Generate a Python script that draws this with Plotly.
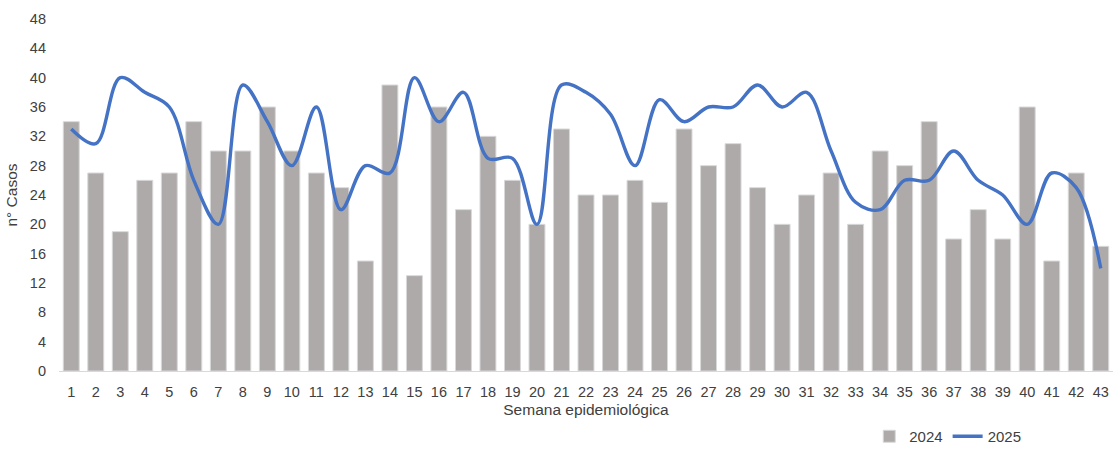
import plotly.graph_objects as go

# Semana epidemiológica 1..43
semanas = list(range(1, 44))

# Casos por semana, 2024 (barras)
casos_2024 = [34, 27, 19, 26, 27, 34, 30, 30, 36, 30, 27, 25, 15, 39, 13, 36, 22, 32, 26, 20,
              33, 24, 24, 26, 23, 33, 28, 31, 25, 20, 24, 27, 20, 30, 28, 34, 18, 22, 18, 36,
              15, 27, 17]

# Casos por semana, 2025 (línea suavizada)
casos_2025 = [33, 31, 40, 38, 36, 26, 20, 39, 34, 28, 36, 22, 28, 27, 40, 34, 38, 29, 29, 20,
              39, 38, 35, 28, 37, 34, 36, 36, 39, 36, 38, 30, 23, 22, 26, 26, 30, 26, 24, 20,
              27, 25, 14]

y_ticks = list(range(0, 49, 4))

font_family = "Liberation Sans, Arial, sans-serif"
text_color = "#404040"

fig = go.Figure()
fig.add_trace(go.Bar(
    x=semanas, y=casos_2024, name="2024",
    marker=dict(color="#ADAAA9", line=dict(color="#D9D9D9", width=1)),
))
fig.add_trace(go.Scatter(
    x=semanas, y=casos_2025, name="2025", mode="lines",
    line=dict(color="#4472C4", width=3.4, shape="spline", smoothing=1.0),
))

fig.update_layout(
    width=1113, height=453,
    margin=dict(l=59, r=0, t=19, b=82),
    paper_bgcolor="white", plot_bgcolor="white",
    bargap=0.35,
    font=dict(family=font_family, color=text_color, size=14.5),
    showlegend=True,
    legend=dict(
        orientation="h", xref="container", yref="container",
        x=0.781, y=-0.028, xanchor="left", yanchor="bottom",
        font=dict(size=15, color=text_color),
        itemwidth=30, traceorder="normal",
    ),
    xaxis=dict(
        tickmode="array", tickvals=semanas, ticktext=[str(s) for s in semanas],
        range=[0.5, 43.5], showgrid=False, zeroline=False,
        showline=True, linecolor="#D9D9D9", linewidth=1,
        ticks="", ticklabelstandoff=8, tickfont=dict(size=14.5, color=text_color),
        title=dict(text="Semana epidemiológica", font=dict(size=15.5, color=text_color), standoff=4),
    ),
    yaxis=dict(
        range=[0, 48], tickmode="array", tickvals=y_ticks,
        showgrid=False, zeroline=False, showline=False, ticks="",
        ticklabelstandoff=12,
        tickfont=dict(size=14.5, color=text_color),
        title=dict(text="n° Casos", font=dict(size=15.5, color=text_color), standoff=8),
    ),
)

fig.write_html("out.html")
